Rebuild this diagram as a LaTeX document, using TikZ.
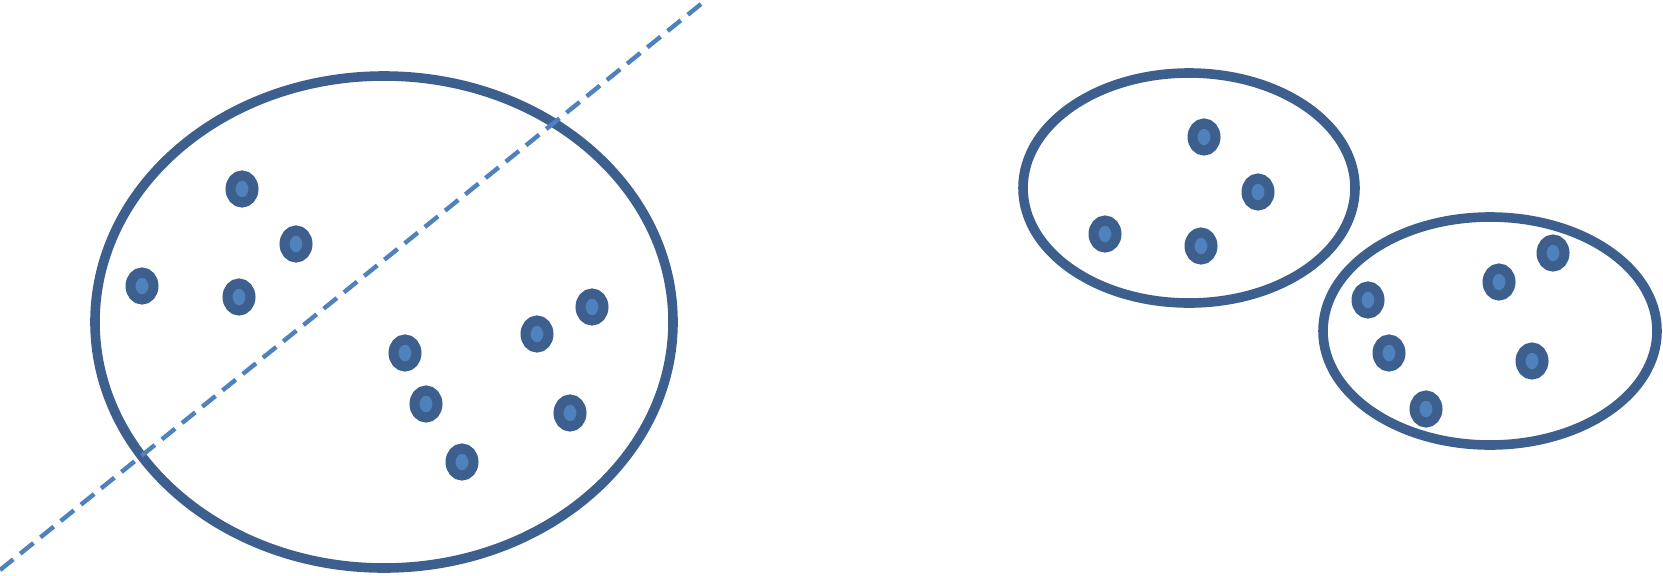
\documentclass[tikz,border=0pt]{standalone}
\usepackage{tikz}
\usetikzlibrary{shapes.geometric}
\definecolor{ringblue}{RGB}{60, 95, 142}
\definecolor{dotblue}{RGB}{79, 129, 189}
\tikzset{
  setnode/.style={ellipse, draw=ringblue, line width=4.8pt, inner sep=0pt},
  dotnode/.style={ellipse, draw=ringblue, fill=dotblue, line width=5pt, minimum width=11.5pt, minimum height=13.5pt, inner sep=0pt},
  cutline/.style={draw=dotblue, line width=2.2pt, dash pattern=on 8.5pt off 4.5pt},
}
\begin{document}
\begin{tikzpicture}[x=0.5pt, y=-0.5pt]
  \useasboundingbox (0,0) rectangle (1663,575);
  % clusters
  \node[setnode, minimum width=289pt, minimum height=246pt] (big) at (384,322) {};
  \node[setnode, minimum width=166pt, minimum height=115pt] (upper) at (1189,188) {};
  \node[setnode, minimum width=167pt, minimum height=114pt] (lower) at (1490,331) {};
  % dashed cut through the big cluster
  \coordinate (cutA) at (0,570);
  \coordinate (cutB) at (706,0);
  \draw[cutline] (cutA) -- (cutB);
  % points
  \foreach \x/\y [count=\i] in {242/189, 296/244, 142/286, 239/297, 592/307, 537/334, 405/353, 426/404, 570/413, 462/462,
      1204/137, 1258/192, 1105/234, 1201/246,
      1553/253, 1499/282, 1368/300, 1389/353, 1532/361, 1426/409}
    \node[dotnode] (p\i) at (\x,\y) {};
\end{tikzpicture}
\end{document}
